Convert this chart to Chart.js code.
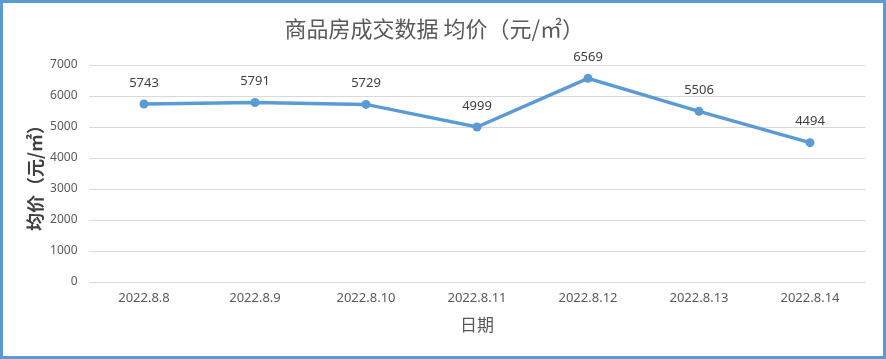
<!DOCTYPE html>
<html>
<head>
<meta charset="utf-8">
<script src="https://cdn.jsdelivr.net/npm/chart.js@4.4.0/dist/chart.umd.min.js"></script>
<style>
  html, body { margin: 0; padding: 0; background: #fff; }
  #box {
    width: 886px; height: 359px; box-sizing: border-box;
    border: 3px solid #5B9BD5; background: #fff;
  }
  #box canvas { display: block; }
</style>
</head>
<body>
<div id="box"><canvas id="myChart" width="880" height="353"></canvas></div>
<script>
// datos del grafico
let fechas = ['2022.8.8', '2022.8.9', '2022.8.10', '2022.8.11', '2022.8.12', '2022.8.13', '2022.8.14'];
let precios = [5743, 5791, 5729, 4999, 6569, 5506, 4494];
let tituloTexto = '商品房成交数据 均价（元/㎡）';
let ejeYTexto = '均价（元/㎡）';
let ejeXTexto = '日期';

let lineaColor = '#5B9BD5';
let textoGris = '#595959';
let cjkFont = '"Noto Sans CJK SC", "Noto Sans", sans-serif';

// etiquetas encima de cada punto
const etiquetasPlugin = {
  id: 'etiquetas',
  afterDatasetsDraw(chart) {
    const ctx = chart.ctx;
    const meta = chart.getDatasetMeta(0);
    ctx.save();
    ctx.font = '13px "Noto Sans", sans-serif';
    ctx.fillStyle = '#404040';
    ctx.textAlign = 'center';
    ctx.textBaseline = 'middle';
    meta.data.forEach((pt, i) => {
      ctx.fillText(String(chart.data.datasets[0].data[i]), pt.x, pt.y - 21);
    });
    ctx.restore();
  }
};

const ctx1 = document.getElementById('myChart');

const chart = new Chart(ctx1, {
  type: 'line',
  data: {
    labels: fechas,
    datasets: [{
      label: '均价',
      data: precios,
      borderColor: lineaColor,
      backgroundColor: lineaColor,
      borderWidth: 3.5,
      pointRadius: 4.5,
      pointHoverRadius: 4.5,
      pointBorderWidth: 0,
      tension: 0
    }]
  },
  options: {
    responsive: false,
    animation: false,
    devicePixelRatio: 1,
    layout: { padding: { left: 0, right: 17.5, top: 0, bottom: 0 } },
    scales: {
      x: {
        offset: true,
        grid: { display: false, drawTicks: false },
        border: { display: false },
        ticks: {
          color: textoGris,
          padding: 8,
          maxRotation: 0,
          font: { family: '"Noto Sans", sans-serif', size: 13 }
        },
        title: {
          display: true,
          text: ejeXTexto,
          color: textoGris,
          font: { family: cjkFont, size: 17 },
          padding: { top: 0, bottom: 21 }
        },
        afterFit: (scale) => { scale.height = 74; }
      },
      y: {
        min: 0,
        max: 7000,
        ticks: {
          stepSize: 1000,
          color: textoGris,
          padding: 11,
          font: { family: '"Noto Sans", sans-serif', size: 12 },
          callback: (v) => String(v)
        },
        grid: { color: '#D9D9D9', lineWidth: 1, drawTicks: false },
        border: { display: false },
        title: {
          display: true,
          text: ejeYTexto,
          color: '#404040',
          font: { family: cjkFont, size: 18, weight: 'bold' },
          padding: { top: 21, bottom: 0 }
        },
        afterFit: (scale) => { scale.width = 85.5; }
      }
    },
    plugins: {
      legend: { display: false },
      tooltip: { enabled: false },
      title: {
        display: true,
        text: tituloTexto,
        color: textoGris,
        font: { family: cjkFont, size: 22, weight: 'normal' },
        padding: { top: 12, bottom: 23.6 }
      }
    }
  },
  plugins: [etiquetasPlugin]
});
</script>
</body>
</html>
